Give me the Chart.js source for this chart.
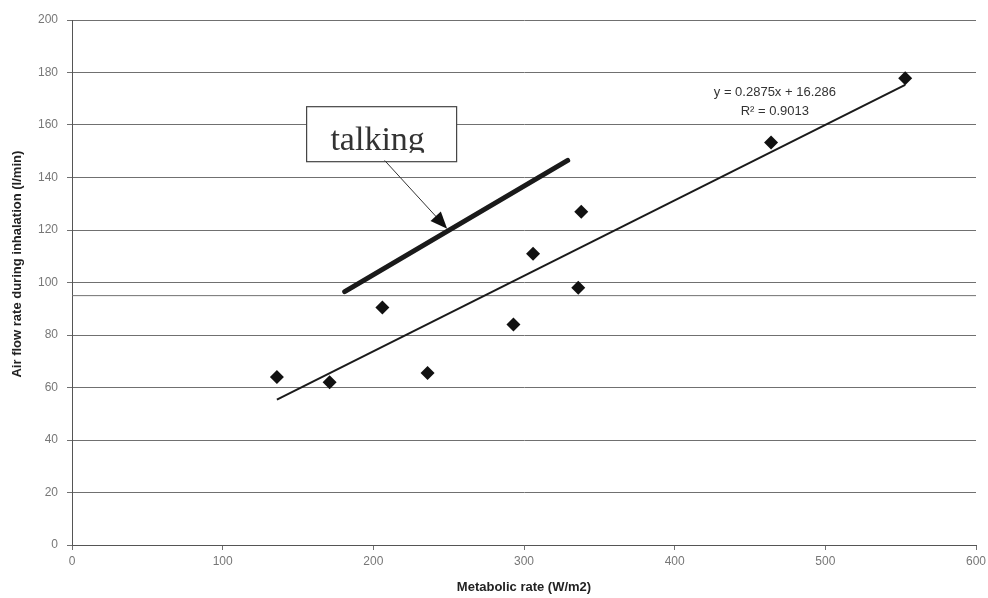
<!DOCTYPE html>
<html>
<head>
<meta charset="utf-8">
<script src="https://cdn.jsdelivr.net/npm/chart.js@4.4.1/dist/chart.umd.min.js"></script>
<style>
  html, body { margin: 0; padding: 0; background: #fff; }
  #wrap { width: 988px; height: 598px; position: relative; }
</style>
</head>
<body>
<div id="wrap"><canvas id="c"></canvas></div>
<script>
// ---- data ----
const metabolicRate = [136, 171, 206, 236, 293, 306, 336, 338, 464, 553];
const airFlow       = [64, 62, 90.5, 65.5, 84, 111, 98, 127, 153.3, 177.8];

// regression trend line endpoints (y = 0.2875x + 16.286)
const trendX = [136, 553];
const trendY = [55.4, 175.3];

// "talking" line
const talkX = [181, 329];
const talkY = [96.5, 146.5];

// extra horizontal reference line
const refX = [0, 600];
const refY = [95, 95];

const xTicks = [0, 100, 200, 300, 400, 500, 600];
const yTicks = [0, 20, 40, 60, 80, 100, 120, 140, 160, 180, 200];

const equationText = ["y = 0.2875x + 16.286", "R\u00B2 = 0.9013"];
const equationAt = { x: 466.5, y1: 172.4, y2: 165.2 };

const talkLabel = "talking";
const talkBox = { x: 205.5, y: 156.5 };       // box centre (data units)
const arrowFrom = { x: 207.5, y: 146.5 };     // box bottom
const arrowTo = { x: 249, y: 120.5 };         // arrow tip on talking line

const yTitle = 'Air flow rate during inhalation (l/min)';
const yTitleCentre = 107;                     // data units along the y axis

const toPts = (xs, ys) => xs.map((x, i) => ({ x: x, y: ys[i] }));

const annotPlugin = {
  id: 'annot',
  afterDraw(chart) {
    const { ctx, scales: { x, y } } = chart;
    ctx.save();
    // y-axis title
    ctx.save();
    ctx.translate(17, y.getPixelForValue(yTitleCentre));
    ctx.rotate(-Math.PI / 2);
    ctx.fillStyle = '#222';
    ctx.font = 'bold 13px "Liberation Sans", Arial, sans-serif';
    ctx.textAlign = 'center';
    ctx.textBaseline = 'middle';
    ctx.fillText(yTitle, 0, 0);
    ctx.restore();

    // equation
    ctx.fillStyle = '#333';
    ctx.font = '13px "Liberation Sans", Arial, sans-serif';
    ctx.textAlign = 'center';
    ctx.textBaseline = 'middle';
    ctx.fillText(equationText[0], x.getPixelForValue(equationAt.x), y.getPixelForValue(equationAt.y1));
    ctx.fillText(equationText[1], x.getPixelForValue(equationAt.x), y.getPixelForValue(equationAt.y2));

    // talking box
    const bx = x.getPixelForValue(talkBox.x), by = y.getPixelForValue(talkBox.y);
    const bw = 150, bh = 55;
    ctx.fillStyle = '#fff';
    ctx.fillRect(bx - bw / 2, by - bh / 2, bw, bh);
    ctx.strokeStyle = '#444';
    ctx.lineWidth = 1.2;
    ctx.strokeRect(bx - bw / 2, by - bh / 2, bw, bh);
    ctx.save();
    ctx.beginPath();
    ctx.rect(bx - bw / 2, by - bh / 2, bw, bh - 9);
    ctx.clip();
    ctx.fillStyle = '#333';
    ctx.font = '34px "Liberation Serif", "Times New Roman", serif';
    ctx.textAlign = 'center';
    ctx.textBaseline = 'alphabetic';
    ctx.fillText(talkLabel, bx - 4, by + 16);
    ctx.restore();

    // arrow
    const ax = x.getPixelForValue(arrowFrom.x), ay = y.getPixelForValue(arrowFrom.y);
    const tx = x.getPixelForValue(arrowTo.x), ty = y.getPixelForValue(arrowTo.y);
    const ang = Math.atan2(ty - ay, tx - ax);
    const hl = 17, hw = 7;
    ctx.strokeStyle = '#333';
    ctx.lineWidth = 1;
    ctx.beginPath();
    ctx.moveTo(ax, ay);
    ctx.lineTo(tx - Math.cos(ang) * hl * 0.8, ty - Math.sin(ang) * hl * 0.8);
    ctx.stroke();
    ctx.fillStyle = '#111';
    ctx.beginPath();
    ctx.moveTo(tx, ty);
    ctx.lineTo(tx - Math.cos(ang) * hl - Math.sin(ang) * hw, ty - Math.sin(ang) * hl + Math.cos(ang) * hw);
    ctx.lineTo(tx - Math.cos(ang) * hl + Math.sin(ang) * hw, ty - Math.sin(ang) * hl - Math.cos(ang) * hw);
    ctx.closePath();
    ctx.fill();
    ctx.restore();
  }
};

const gridColor = '#707070';

new Chart(document.getElementById('c'), {
  type: 'scatter',
  data: {
    datasets: [
      {
        type: 'line', data: toPts(refX, refY), borderColor: gridColor, borderWidth: 1,
        pointRadius: 0, fill: false, order: 5
      },
      {
        type: 'line', data: toPts(trendX, trendY), borderColor: '#1a1a1a', borderWidth: 2,
        pointRadius: 0, fill: false, order: 3
      },
      {
        type: 'line', data: toPts(talkX, talkY), borderColor: '#1a1a1a', borderWidth: 5,
        borderCapStyle: 'round', pointRadius: 0, fill: false, order: 2
      },
      {
        data: toPts(metabolicRate, airFlow), pointStyle: 'rectRot', pointRadius: 7,
        backgroundColor: '#111', borderColor: '#111', borderWidth: 0, order: 1
      }
    ]
  },
  options: {
    responsive: true,
    maintainAspectRatio: false,
    animation: false,
    devicePixelRatio: 1,
    layout: { padding: { top: 20, right: 0, left: 0, bottom: 0 } },
    plugins: { legend: { display: false }, tooltip: { enabled: false } },
    scales: {
      x: {
        type: 'linear', min: 0, max: 600,
        afterBuildTicks: (s) => { s.ticks = xTicks.map(v => ({ value: v })); },
        afterFit: (s) => { s.height = 53; s.paddingRight = 12; s.paddingLeft = 0; },
        grid: { drawOnChartArea: false, drawTicks: true, tickLength: 5, color: gridColor },
        border: { display: true, color: '#555', width: 1 },
        ticks: { color: '#777', font: { family: '"Liberation Sans", Arial, sans-serif', size: 12 }, padding: 4, maxRotation: 0 },
        title: {
          display: true, text: 'Metabolic rate (W/m2)', color: '#222',
          font: { family: '"Liberation Sans", Arial, sans-serif', size: 13, weight: 'bold' },
          padding: { top: 0, bottom: 3 }
        }
      },
      y: {
        type: 'linear', min: 0, max: 200,
        afterBuildTicks: (s) => { s.ticks = yTicks.map(v => ({ value: v })); },
        afterFit: (s) => { s.width = 72; },
        grid: { drawOnChartArea: true, drawTicks: true, tickLength: 5, color: gridColor, lineWidth: 1 },
        border: { display: true, color: '#555', width: 1 },
        ticks: { color: '#777', font: { family: '"Liberation Sans", Arial, sans-serif', size: 12 }, padding: 9 },
        title: { display: false }
      }
    }
  },
  plugins: [annotPlugin]
});
</script>
</body>
</html>
